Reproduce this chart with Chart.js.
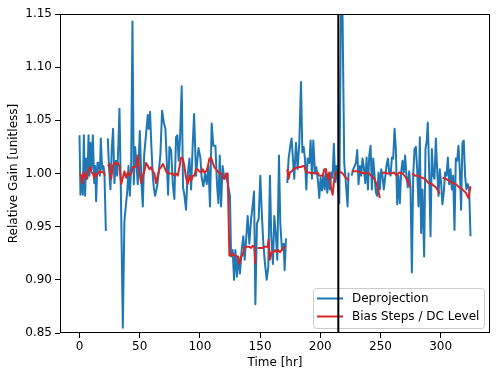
<!DOCTYPE html>
<html>
<head>
<meta charset="utf-8">
<script src="https://cdn.jsdelivr.net/npm/chart.js@4.4.0/dist/chart.umd.min.js"></script>
<style>
  html, body { margin: 0; padding: 0; background: #fff; }
  #wrap { width: 499px; height: 379px; }
</style>
</head>
<body>
<div id="wrap"><canvas id="gain" width="499" height="379"></canvas></div>
<script>
// Deprojection gain vs time (null gain = break in the line)
const deprojTime = [
  0.0, 0.8, 1.9, 2.8, 3.6, 4.7, 5.5, 6.6, 7.5, 8.3, 9.1, 10.0, 11.1, 12.2, 13.0, 13.8, 14.9, 16.0, 16.9, 17.7, 18.8, 19.9, 20.7, 21.9,
  22.7,
  23.5, 24.6, 25.7, 26.8, 27.9, 29.0, 30.2, 31.3, 32.4, 33.2, 34.3, 36.0, 37.3, 38.7, 39.8, 40.7, 41.8, 42.9, 44.0, 45.1, 46.2, 47.3,
  48.4, 50.1, 51.5, 52.6, 53.7, 55.3, 56.7, 57.5, 58.6, 59.8, 60.9, 61.7, 62.8, 64.5, 65.8, 67.2, 68.6, 70.0, 71.4, 73.6, 74.7, 76.1,
  77.5, 78.8, 80.2, 81.3, 82.4, 83.5, 84.9, 86.0, 87.1, 88.5, 89.6, 91.3, 92.7, 94.1, 95.2, 96.8, 98.8, 100.4, 101.5, 102.9, 104.3,
  105.7, 107.1, 108.4, 109.8, 111.2, 112.9, 114.2, 115.4, 116.5, 117.6, 118.9, 120.3, 121.7, 123.1, 125.0, 125.9, 127.2, 128.4, 129.5,
  130.8, 132.0, 133.3, 134.7, 136.1, 137.2, 138.3, 139.7, 141.1, 142.5, 143.8, 145.0, 146.1, 147.4, 148.8, 150.2, 151.3, 152.7, 154.1,
  155.5, 156.8, 158.2, 159.3, 160.7, 161.8, 163.2, 164.3, 165.7, 166.8, 168.2, 169.6, 170.4, 171.5,
  172.0,
  172.6, 173.7, 175.1, 176.2, 177.3, 178.4, 179.8, 181.2, 182.6, 184.0, 185.1, 186.2, 187.3, 188.4, 189.5, 190.9, 192.0, 193.1, 194.2,
  195.6, 196.7, 198.1, 199.2, 200.3, 201.4, 202.5, 203.6, 204.7, 205.8, 206.9, 208.0, 209.1, 210.2, 211.3, 212.4, 213.5, 215.8, 217.7,
  219.9, 221.3, 222.7, 223.5,
  224.8,
  226.1, 227.4, 228.5, 229.6, 230.7, 231.8, 232.9, 234.0, 235.1, 236.2, 237.4, 238.5, 239.6, 240.7, 241.8, 242.9, 244.0, 245.1, 246.2,
  247.3, 248.4, 249.5, 250.6, 251.7, 252.8, 253.9, 255.0, 256.2, 257.3, 258.4, 259.5, 260.6, 261.7, 262.8, 263.9, 265.0, 266.1, 267.2,
  268.3, 269.4, 270.5, 271.6, 272.7, 273.9, 275.0, 276.1, 277.2, 278.3, 279.4, 280.5, 281.6, 282.7, 283.8, 284.9, 286.3, 287.4, 288.5,
  289.3, 290.5, 291.6, 292.7, 293.8, 294.9, 296.0, 297.1, 298.2, 299.3, 300.4, 301.5, 302.6, 303.7, 304.9, 306.0, 307.1, 308.2, 309.3,
  310.4, 311.5, 312.6, 313.7, 314.8, 315.9, 317.0, 318.1, 319.2, 320.3, 321.4, 322.6, 323.7, 324.8
];
const deprojGain = [
  1.036, 0.980, 0.998, 0.980, 1.036, 0.979, 1.014, 0.995, 1.036, 0.998, 1.029, 1.004, 1.036, 0.991, 1.007, 0.974, 1.010, 1.010, 0.998, 1.033, 1.004, 1.007, 1.001, 0.946,
  null,
  1.033, 1.004, 0.985, 1.023, 1.042, 0.991, 1.012, 0.998, 1.031, 1.061, 0.988, 0.855, 0.955, 0.972, 0.985, 1.007, 0.979, 1.007, 1.143, 0.990, 1.025, 1.010,
  0.990, 1.040, 0.991, 0.969, 1.017, 1.037, 1.055, 1.042, 1.058, 1.023, 0.998, 0.987, 0.979, 0.988, 1.001, 1.018, 1.059, 1.048, 1.042, 0.980, 1.025, 1.022,
  0.990, 0.976, 1.034, 1.036, 1.012, 1.033, 1.082, 0.987, 0.980, 0.966, 0.995, 1.014, 0.985, 1.029, 1.056, 0.998, 1.024, 1.015, 0.996, 0.988, 1.000,
  0.990, 1.007, 0.969, 1.047, 1.026, 1.026, 0.990, 0.972, 1.017, 0.969, 1.007, 0.995, 0.998, 0.991, 0.979, 0.922, 0.928, 0.900, 0.928,
  0.903, 0.922, 0.906, 0.928, 0.941, 0.919, 0.936, 0.960, 0.934, 0.957, 0.969, 0.983, 0.877, 0.953, 0.957, 0.998, 0.966, 0.934, 0.915,
  0.900, 0.912, 0.998, 0.941, 0.915, 0.960, 0.941, 0.919, 1.017, 0.953, 0.928, 0.934, 0.909, 0.939,
  null,
  0.991, 1.014, 1.026, 1.033, 1.014, 0.995, 1.029, 1.004, 1.029, 1.086, 1.020, 1.025, 1.014, 0.985, 1.014, 1.010, 1.031, 0.995, 1.031,
  1.001, 1.006, 0.993, 0.977, 0.996, 0.984, 0.998, 0.985, 1.004, 0.982, 0.995, 0.985, 1.001, 0.996, 1.028, 0.992, 1.007, 0.972, 1.230,
  1.010, 0.991, 0.969, 1.001,
  null,
  0.998, 1.004, 1.007, 1.010, 1.022, 0.990, 1.007, 0.998, 1.014, 1.006, 0.991, 1.015, 0.985, 1.017, 1.026, 0.985, 1.014, 0.998, 0.982,
  0.979, 1.001, 0.985, 1.004, 0.998, 0.985, 0.996, 1.007, 1.014, 1.001, 0.998, 1.015, 1.014, 1.042, 1.023, 0.971, 0.998, 0.972, 1.001,
  1.012, 1.001, 1.017, 0.998, 0.987, 1.002, 0.985, 0.907, 0.998, 1.023, 1.025, 1.004, 0.969, 1.034, 0.944, 0.985, 0.922, 1.023, 1.031,
  1.048, 1.001, 0.941, 1.023, 0.998, 0.995, 1.033, 1.004, 0.979, 1.004, 0.991, 0.971, 0.982, 1.001, 0.998, 1.015, 0.990, 1.004, 0.985,
  0.998, 0.947, 1.014, 1.012, 1.026, 1.004, 0.966, 1.029, 1.031, 0.998, 0.985, 0.990, 0.985, 0.941
];

// Bias steps / DC level gain vs time
const biasTime = [
  0.0, 1.4, 2.2, 3.3, 4.4, 5.5, 6.6, 7.7, 8.9, 10.0, 11.1, 12.2, 13.3, 14.4, 15.5, 16.6, 17.7, 18.8, 19.9, 21.3,
  22.4,
  23.5, 24.9, 26.3, 27.7, 29.0, 30.4, 31.8, 33.2, 34.6, 36.0, 37.3, 38.7, 40.1, 41.5, 42.9, 44.3, 45.6, 47.0, 48.4, 49.8, 51.2, 52.6,
  53.9, 55.3, 56.7, 58.1, 59.5, 60.9, 62.2, 63.6, 65.0, 66.4, 67.8, 69.2, 70.5, 71.9, 73.3, 74.7, 76.1, 77.5, 78.8, 80.2, 81.6, 83.0,
  84.4, 85.8, 87.1, 88.5, 89.9, 91.3, 92.7, 94.1, 95.4, 96.8, 98.2, 99.6, 101.0, 102.4, 103.7, 105.1, 106.5, 107.9, 109.3, 110.7, 112.0,
  113.4, 114.8, 116.2, 117.6, 118.9, 120.3, 121.7, 123.1, 124.5, 125.9, 127.2, 128.6, 130.0, 131.4, 132.8, 134.2, 135.5, 136.9, 138.3,
  139.7, 141.1, 142.5, 143.8, 145.2, 146.1,
  147.0,
  148.0, 149.4, 150.8, 152.1, 153.5, 154.9, 156.3, 157.1, 158.2, 159.6, 161.0, 162.4, 163.8, 165.1, 166.5, 167.9, 169.3, 171.0,
  171.8,
  172.6, 173.7, 174.8, 176.2, 177.6, 179.3, 181.2, 182.6, 184.0, 185.3, 186.7, 188.1, 189.5, 190.9, 192.3, 193.6, 195.0, 196.4, 197.8,
  199.2, 202.0, 203.3, 204.7, 206.1, 207.5, 208.9, 210.3, 211.6, 213.0, 214.4, 215.8, 217.2, 218.6, 219.9, 221.3, 222.7, 223.5,
  224.8,
  226.1, 228.3, 231.1, 233.9, 236.7, 239.4, 242.2, 245.0, 247.7, 249.5,
  250.4,
  251.2, 253.1, 255.9, 258.7, 261.4, 263.4, 265.6, 268.4, 271.2, 273.4, 275.0,
  275.6,
  276.1, 278.8, 281.6, 284.4, 287.1, 289.9, 292.7, 296.0, 299.3,
  300.4,
  301.5, 304.3, 307.1, 309.8, 312.6, 315.4, 318.1, 320.9, 323.1, 324.8
];
const biasGain = [
  1.000, 0.998, 0.991, 1.001, 0.998, 0.995, 1.001, 1.004, 1.006, 1.001, 1.000, 0.996, 1.000, 0.998, 1.001, 1.002, 1.001, 1.002, 1.001, 0.998,
  null,
  1.007, 1.009, 0.995, 1.007, 1.010, 1.009, 1.010, 1.007, 0.990, 0.996, 1.002, 0.996, 1.001, 0.998, 1.000, 1.006, 1.006, 1.007, 1.017, 1.001, 0.991, 0.998,
  1.002, 1.010, 1.007, 1.004, 1.006, 1.002, 1.000, 0.991, 0.998, 1.004, 1.006, 1.009, 1.006, 1.002, 1.000, 1.000, 1.000, 1.000, 0.998, 1.000, 0.998, 1.006,
  1.015, 1.014, 1.007, 0.996, 0.990, 0.998, 0.993, 0.998, 0.998, 1.004, 1.004, 1.002, 1.001, 1.004, 1.001, 1.002, 1.006, 1.014, 1.015, 1.010, 1.006,
  1.004, 1.002, 1.000, 1.000, 0.996, 0.995, 1.000, 1.000, 0.923, 0.923, 0.925, 0.923, 0.922, 0.922, 0.915, 0.922, 0.923, 0.930, 0.931,
  0.931, 0.931, 0.930, 0.932, 0.931, 0.915,
  null,
  0.930, 0.930, 0.930, 0.930, 0.931, 0.931, 0.931, 0.938, 0.919, 0.926, 0.926, 0.928, 0.926, 0.928, 0.926, 0.928, 0.930, 0.931,
  null,
  1.004, 0.995, 1.001, 1.002, 1.004, 1.005, 1.006, 1.006, 1.006, 1.007, 1.007, 1.002, 1.001, 1.001, 1.000, 1.001, 1.000, 1.000, 1.001,
  0.998, 0.998, 1.004, 1.004, 0.995, 1.001, 0.987, 0.980, 0.995, 1.001, 1.001, 1.002, 1.001, 1.000, 0.998, 0.996, 0.995, 0.993,
  null,
  1.002, 1.002, 1.002, 1.001, 1.000, 1.001, 0.998, 0.995, 0.987, 0.977,
  null,
  1.000, 1.001, 1.000, 1.000, 1.001, 0.998, 1.001, 1.000, 0.996, 0.991, 0.987,
  null,
  1.000, 0.998, 0.998, 0.996, 0.995, 0.991, 0.990, 0.987, 0.981,
  null,
  0.996, 0.995, 0.993, 0.991, 0.990, 0.987, 0.985, 0.982, 0.977, 0.988
];

const xTicks = [0, 50, 100, 150, 200, 250, 300];
const yTicks = [0.85, 0.90, 0.95, 1.00, 1.05, 1.10, 1.15];
const markerTime = 215; // vertical marker

const BLUE = '#1f77b4';
const RED = '#d62728';
const FONT = { family: '"DejaVu Sans", sans-serif', size: 12 };

function toPoints(times, gains) {
  return times.map((t, i) => ({ x: t, y: gains[i] }));
}

// legend box (lower right, matplotlib style), the vertical marker and the axes frame
const overlay = {
  id: 'overlay',
  afterDatasetsDraw(chart) {
    const { ctx, chartArea: a, scales } = chart;
    ctx.save();

    const w = 171, h = 40;
    const bx = a.right - 6 - w, by = a.bottom - 5 - h;
    ctx.beginPath();
    ctx.roundRect(bx + 0.5, by + 0.5, w, h, 3);
    ctx.fillStyle = 'rgba(255,255,255,0.8)';
    ctx.fill();
    ctx.strokeStyle = '#cccccc';
    ctx.lineWidth = 1;
    ctx.stroke();

    ctx.font = '12px "DejaVu Sans", sans-serif';
    ctx.textBaseline = 'middle';
    ctx.fillStyle = '#000';
    chart.data.datasets.forEach((ds, i) => {
      const ry = by + 10.5 + i * 18;
      ctx.beginPath();
      ctx.moveTo(bx + 4, ry);
      ctx.lineTo(bx + 30, ry);
      ctx.strokeStyle = ds.borderColor;
      ctx.lineWidth = 2;
      ctx.stroke();
      ctx.fillText(ds.label, bx + 39, ry);
    });

    const mx = scales.x.getPixelForValue(markerTime);
    ctx.beginPath();
    ctx.moveTo(mx, a.top);
    ctx.lineTo(mx, a.bottom);
    ctx.strokeStyle = '#000';
    ctx.lineWidth = 2;
    ctx.stroke();

    ctx.strokeStyle = '#000';
    ctx.lineWidth = 1;
    ctx.strokeRect(a.left + 0.5, a.top + 0.5, a.width - 1, a.height - 1);
    ctx.restore();
  }
};

Chart.defaults.color = '#000';
Chart.defaults.font = FONT;

new Chart(document.getElementById('gain'), {
  type: 'line',
  data: {
    datasets: [
      {
        label: 'Deprojection',
        data: toPoints(deprojTime, deprojGain),
        borderColor: BLUE,
        backgroundColor: BLUE,
        borderWidth: 2,
        pointRadius: 0,
        tension: 0,
        borderJoinStyle: 'round',
        spanGaps: false,
        order: 1
      },
      {
        label: 'Bias Steps / DC Level',
        data: toPoints(biasTime, biasGain),
        borderColor: RED,
        backgroundColor: RED,
        borderWidth: 2,
        pointRadius: 0,
        tension: 0,
        borderJoinStyle: 'round',
        spanGaps: false,
        order: 0
      }
    ]
  },
  options: {
    responsive: false,
    animation: false,
    devicePixelRatio: 1,
    layout: { padding: { top: 14, right: 9, left: 0, bottom: 0 } },
    plugins: { legend: { display: false }, tooltip: { enabled: false } },
    scales: {
      x: {
        type: 'linear',
        min: -16.2,
        max: 341,
        afterFit: (s) => { s.height = 46; },
        afterBuildTicks: (s) => { s.ticks = xTicks.map((v) => ({ value: v })); },
        grid: { display: true, drawOnChartArea: false, drawTicks: true, tickLength: 5, tickColor: '#000', tickWidth: 1 },
        border: { display: false },
        ticks: { padding: 2, maxRotation: 0, font: FONT, callback: (v) => String(v) },
        title: { display: true, text: 'Time [hr]', font: FONT, padding: { top: 0, bottom: 9 } }
      },
      y: {
        type: 'linear',
        min: 0.85,
        max: 1.15,
        afterFit: (s) => { s.width = 60; },
        afterBuildTicks: (s) => { s.ticks = yTicks.map((v) => ({ value: v })); },
        grid: { display: true, drawOnChartArea: false, drawTicks: true, tickLength: 5, tickColor: '#000', tickWidth: 1 },
        border: { display: false },
        ticks: { padding: 3, font: FONT, callback: (v) => Number(v).toFixed(2) },
        title: { display: true, text: 'Relative Gain [unitless]', font: FONT, padding: { top: 7, bottom: 0 } }
      }
    }
  },
  plugins: [overlay]
});
</script>
</body>
</html>
